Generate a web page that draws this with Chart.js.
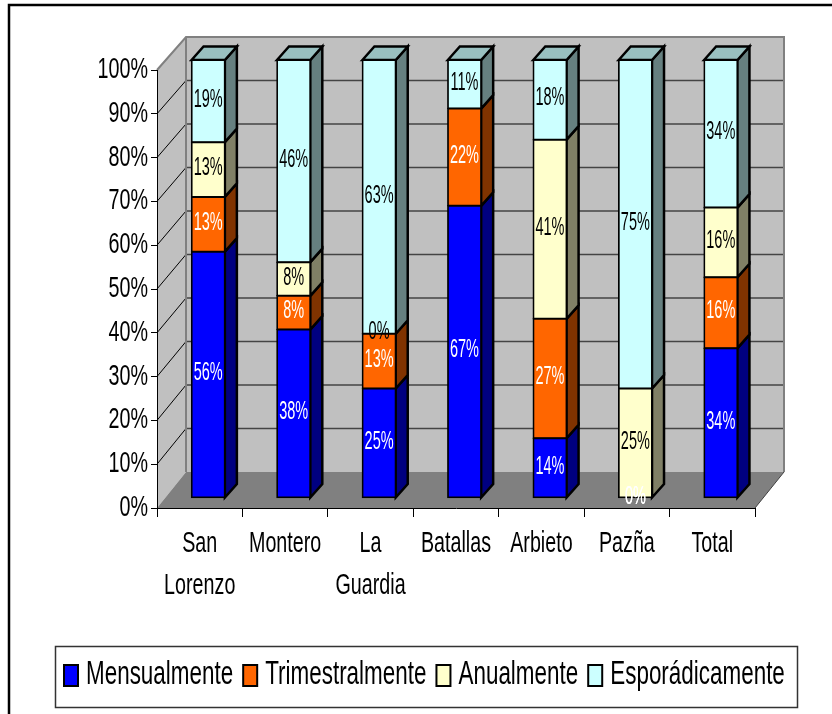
<!DOCTYPE html>
<html lang="es">
<head>
  <meta charset="UTF-8">
  <title>Frecuencia por municipio</title>
  <script src="https://cdn.jsdelivr.net/npm/chart.js"></script>
  <style>
    html, body { margin: 0; padding: 0; background: #fff; }
    canvas { display: block; }
  </style>
</head>
<body>
  <canvas id="chart" width="832" height="714"></canvas>

  <script>
    const categories = [['San', 'Lorenzo'], 'Montero', ['La', 'Guardia'], 'Batallas', 'Arbieto', 'Pazña', 'Total'];
    const mensualmente = [56.25, 38.46, 25, 66.7, 13.64, 0, 34.2];
    const trimestralmente = [12.5, 7.69, 12.5, 22.2, 27.27, 0, 16.2];
    const anualmente = [12.5, 7.69, 0, null, 40.91, 25, 15.9];
    const esporadicamente = [18.75, 46.15, 62.5, 11.1, 18.18, 75, 33.7];

    const FONT = '"Liberation Sans", Arial, sans-serif';
    const SQUEEZE = 0.68; // the original picture is stretched, all its text is narrow

    // 3D box offsets, px
    const WALL_DX = 29, WALL_DY_BOTTOM = 36, WALL_DY_TOP = 33;
    const BAR_SHIFT_X = 8.5, BAR_SHIFT_Y = -10;
    const BAR_DX = 12, BAR_DY = 13.5;

    const canvas = document.getElementById('chart');
    const context = canvas.getContext('2d');
    const rawFillText = context.fillText.bind(context);
    context.fillText = (text, x, y) => {
      context.save();
      context.translate(x, y);
      context.scale(SQUEEZE, 1);
      rawFillText(text, 0, 0);
      context.restore();
    };

    function poly(ctx, pts, fill, stroke, width) {
      ctx.beginPath();
      pts.forEach((p, i) => i ? ctx.lineTo(p[0], p[1]) : ctx.moveTo(p[0], p[1]));
      ctx.closePath();
      if (fill) { ctx.fillStyle = fill; ctx.fill(); }
      if (stroke) { ctx.strokeStyle = stroke; ctx.lineWidth = width; ctx.stroke(); }
    }

    const box3d = {
      id: 'box3d',
      beforeDraw(chart) {
        const { ctx, chartArea: a, scales: { y } } = chart;
        const backY = v => { // wall depth shrinks a little towards the top
          const t = v / 100;
          return y.getPixelForValue(v) - (WALL_DY_BOTTOM + (WALL_DY_TOP - WALL_DY_BOTTOM) * t);
        };
        const l = a.left + WALL_DX, r = a.right + WALL_DX;

        ctx.save();
        // outer frame
        ctx.strokeStyle = '#000';
        ctx.lineWidth = 2.5;
        ctx.beginPath();
        ctx.moveTo(832, 5);
        ctx.lineTo(9, 5);
        ctx.lineTo(9, 714);
        ctx.stroke();

        // walls and floor
        poly(ctx, [[l, backY(100)], [r, backY(100)], [r, backY(0)], [l, backY(0)]], '#c0c0c0');
        poly(ctx, [[a.left, a.top], [l, backY(100)], [l, backY(0)], [a.left, a.bottom]], '#c0c0c0');
        poly(ctx, [[a.left, a.bottom], [a.right, a.bottom], [r, backY(0)], [l, backY(0)]], '#808080');

        // gridlines over the two walls
        y.ticks.forEach(t => {
          if (t.value === 0 || t.value === 100) return;
          const by = backY(t.value);
          ctx.strokeStyle = '#444';
          ctx.lineWidth = 1.5;
          ctx.beginPath(); ctx.moveTo(l, by); ctx.lineTo(r, by); ctx.stroke();
          ctx.strokeStyle = '#000';
          ctx.lineWidth = 1;
          ctx.beginPath(); ctx.moveTo(a.left, y.getPixelForValue(t.value)); ctx.lineTo(l, by); ctx.stroke();
        });

        // wall edges
        ctx.strokeStyle = '#808080';
        ctx.lineWidth = 2;
        ctx.beginPath();
        ctx.moveTo(a.left, a.top);
        ctx.lineTo(l, backY(100));
        ctx.lineTo(r, backY(100));
        ctx.lineTo(r, backY(0));
        ctx.moveTo(l, backY(100));
        ctx.lineTo(l, backY(0));
        ctx.stroke();
        ctx.strokeStyle = '#404040';
        ctx.lineWidth = 1;
        ctx.beginPath();
        ctx.moveTo(a.right, a.bottom);
        ctx.lineTo(r, backY(0));
        ctx.stroke();
        ctx.restore();
      },
      beforeDatasetsDraw(chart) {
        const { ctx } = chart;
        ctx.save();
        ctx.translate(BAR_SHIFT_X, BAR_SHIFT_Y);
        // side and top faces go behind the library's bars
        chart.data.datasets.forEach((ds, di) => {
          chart.getDatasetMeta(di).data.forEach((bar, i) => {
            if (!ds.data[i]) return;
            const right = bar.x + bar.width / 2, left = bar.x - bar.width / 2;
            poly(ctx, [[right, bar.y], [right + BAR_DX, bar.y - BAR_DY], [right + BAR_DX, bar.base - BAR_DY], [right, bar.base]],
              ds.sideColor, '#000', 2.5);
            if (di === chart.data.datasets.length - 1) {
              poly(ctx, [[left, bar.y], [left + BAR_DX, bar.y - BAR_DY], [right + BAR_DX, bar.y - BAR_DY], [right, bar.y]],
                ds.topColor, '#000', 2.5);
            }
          });
        });
      },
      afterDatasetsDraw(chart) {
        const { ctx } = chart;
        // data labels
        chart.data.datasets.forEach((ds, di) => {
          chart.getDatasetMeta(di).data.forEach((bar, i) => {
            const v = ds.data[i];
            if (v === null) return;
            ctx.save();
            ctx.translate(bar.x, (bar.y + bar.base) / 2 - 1.5);
            ctx.scale(0.82, 1);
            ctx.font = '26px ' + FONT;
            ctx.fillStyle = ds.labelColor;
            ctx.textAlign = 'center';
            ctx.textBaseline = 'middle';
            ctx.fillText(Math.round(v) + '%', 0, 0);
            ctx.restore();
          });
        });
        ctx.restore();
      },
      afterDraw(chart) {
        const { ctx } = chart;
        // legend box laid out like the original, one line inside a frame
        ctx.save();
        ctx.strokeStyle = '#333';
        ctx.lineWidth = 1.5;
        ctx.strokeRect(55.5, 646.5, 742, 61);
        ctx.font = '33px ' + FONT;
        ctx.textBaseline = 'middle';
        ctx.textAlign = 'left';
        let x = 64;
        chart.data.datasets.forEach(ds => {
          ctx.fillStyle = ds.backgroundColor;
          ctx.strokeStyle = '#000';
          ctx.lineWidth = 2;
          ctx.fillRect(x, 665, 14, 21);
          ctx.strokeRect(x, 665, 14, 21);
          ctx.fillStyle = '#000';
          ctx.fillText(ds.label, x + 22, 675);
          x += 22 + ctx.measureText(ds.label).width * SQUEEZE + 10;
        });
        ctx.restore();
      }
    };

    const dataset = (label, data, color, sideColor, topColor, labelColor) => ({
      label, data, sideColor, topColor, labelColor,
      backgroundColor: color,
      borderColor: '#000',
      borderWidth: 1.75,
      inflateAmount: 0.75,
      borderSkipped: false,
      barPercentage: 0.39,
      categoryPercentage: 1,
      clip: false
    });

    new Chart(canvas, {
      type: 'bar',
      data: {
        labels: categories,
        datasets: [
          dataset('Mensualmente', mensualmente, '#0000ff', '#000080', '#0000c0', '#fff'),
          dataset('Trimestralmente', trimestralmente, '#ff6600', '#803300', '#c04d00', '#fff'),
          dataset('Anualmente', anualmente, '#ffffcc', '#808066', '#c0c099', '#000'),
          dataset('Esporádicamente', esporadicamente, '#ccffff', '#668080', '#99c0c0', '#000')
        ]
      },
      options: {
        responsive: false,
        animation: false,
        layout: { padding: { top: 70, right: 77, bottom: 78, left: 0 } },
        plugins: {
          tooltip: { enabled: false },
          legend: { display: false }
        },
        scales: {
          x: {
            stacked: true,
            afterFit(scale) { scale.height = 128; },
            grid: { drawOnChartArea: false, color: '#000', tickLength: 9, offset: true },
            border: { color: '#000', width: 1 },
            ticks: {
              autoSkip: false,
              maxRotation: 0,
              padding: 6,
              color: '#000',
              font: { family: FONT, size: 29, lineHeight: 1.45 }
            }
          },
          y: {
            stacked: true,
            min: 0,
            max: 100,
            afterFit(scale) { scale.width = 157; },
            grid: { drawOnChartArea: false, color: '#000', tickLength: 6 },
            border: { color: '#000', width: 1 },
            ticks: {
              stepSize: 10,
              padding: 3,
              color: '#000',
              font: { family: FONT, size: 29 },
              callback: v => v + '%'
            }
          }
        }
      },
      plugins: [box3d]
    });
  </script>
</body>
</html>
